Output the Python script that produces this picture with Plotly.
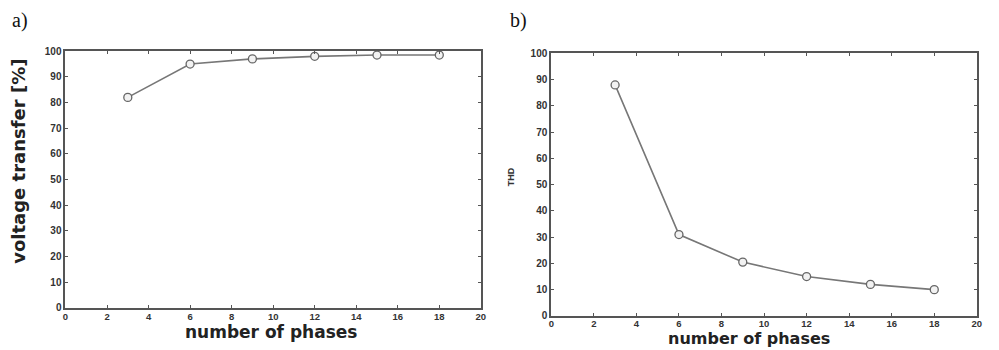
import plotly.graph_objects as go

phases = [3, 6, 9, 12, 15, 18]
voltage_transfer = [82, 95, 97, 98, 98.5, 98.5]
thd = [88, 31, 20.5, 15, 12, 10]
x_ticks = [0, 2, 4, 6, 8, 10, 12, 14, 16, 18, 20]
y_ticks = [0, 10, 20, 30, 40, 50, 60, 70, 80, 90, 100]

W, H = 999, 350
line_col = "#777777"
axis_col = "#555555"

fig = go.Figure()
for xa, ya, yv in [("x", "y", voltage_transfer), ("x2", "y2", thd)]:
    fig.add_trace(go.Scatter(
        x=phases, y=yv, xaxis=xa, yaxis=ya, mode="lines+markers",
        line=dict(color=line_col, width=1.6),
        marker=dict(symbol="circle", size=8, color="#f2f2f2",
                    line=dict(color="#666666", width=1.3)),
        showlegend=False, cliponaxis=False))

axis_common = dict(showline=True, linecolor=axis_col, linewidth=2, mirror="ticks",
                   ticks="inside", ticklen=3, tickwidth=1, tickcolor=axis_col,
                   showgrid=False, zeroline=False)
tf10 = dict(family="Liberation Sans", size=10, color="#333333", weight="bold")
tf9 = dict(family="Liberation Sans", size=9.5, color="#333333", weight="bold")

fig.update_layout(
    width=W, height=H, margin=dict(l=0, r=0, t=0, b=0),
    paper_bgcolor="white", plot_bgcolor="white",
    xaxis=dict(domain=[63/W, 481.7/W], range=[0, 20], tickvals=x_ticks, anchor="y",
               tickfont=tf9, ticklabelstandoff=-1, **axis_common),
    yaxis=dict(domain=[1-312.7/H, 1-47.7/H], range=[0, 100], tickvals=y_ticks, anchor="x",
               tickfont=tf10, **axis_common),
    xaxis2=dict(domain=[552.7/W, 981.7/W], range=[0, 20], tickvals=x_ticks, anchor="y2",
                tickfont=tf9, ticklabelstandoff=-2, **axis_common),
    yaxis2=dict(domain=[1-321/H, 1-50/H], range=[0, 100], tickvals=y_ticks, anchor="x2",
                tickfont=tf10, **axis_common),
)

def ann(text, x, y, size, family, angle=0, weight="normal", color="#222222"):
    fig.add_annotation(text=text, x=x/W, y=1-y/H, xref="paper", yref="paper",
                       showarrow=False, textangle=angle, xanchor="center", yanchor="middle",
                       font=dict(family=family, size=size, color=color, weight=weight))

ann("a)", 17, 16, 20, "Liberation Serif", color="#111111")
ann("b)", 520, 16, 20, "Liberation Serif", color="#111111")
ann("voltage transfer [%]", 16, 161, 18, "DejaVu Sans", angle=-90, weight="bold")
ann("THD", 513, 177, 9, "Liberation Sans", angle=-90, weight="bold", color="#333333")
ann("number of phases", 270, 338, 17, "DejaVu Sans", weight="bold")
ann("number of phases", 752, 344, 16, "DejaVu Sans", weight="bold")

fig.write_html("out.html")
